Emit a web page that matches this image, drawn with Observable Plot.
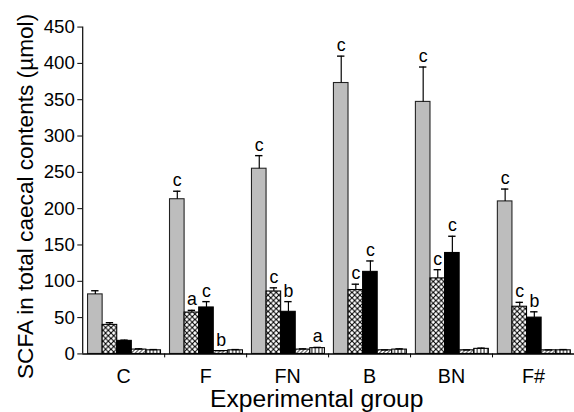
<!DOCTYPE html>
<html><head><meta charset="utf-8">
<script src="https://cdn.jsdelivr.net/npm/d3@7"></script>
<script src="https://cdn.jsdelivr.net/npm/@observablehq/plot@0.6"></script>
<style>
html,body{margin:0;padding:0;overflow:hidden;background:#fff;width:574px;height:412px}
#chart{width:574px;height:412px;overflow:hidden}
</style>
</head><body>
<svg width="0" height="0" style="position:absolute">
  <defs>
    <pattern id="cross" patternUnits="userSpaceOnUse" width="5.5" height="5.5">
      <rect width="5.5" height="5.5" fill="#fff"/>
      <path d="M0,0L5.5,5.5M5.5,0L0,5.5" stroke="#000" stroke-width="1.1"/>
    </pattern>
    <pattern id="diag" patternUnits="userSpaceOnUse" width="4" height="4">
      <rect width="4" height="4" fill="#fff"/>
      <path d="M-1,1l2,-2M0,4l4,-4M3,5l2,-2" stroke="#000" stroke-width="1"/>
    </pattern>
    <pattern id="vstripe" patternUnits="userSpaceOnUse" width="3.5" height="3.5">
      <rect width="3.5" height="3.5" fill="#fff"/>
      <path d="M1.75,0V3.5" stroke="#000" stroke-width="1"/>
    </pattern>
  </defs>
</svg>
<div id="chart"></div>
<script>
// Categories
const groups = ["C", "F", "FN", "B", "BN", "F#"];
// Series values (µmol) and SEM, one array per bar type
const grayVals    = [82, 213, 255, 373, 347, 210];
const grayErr     = [5, 11, 18, 37, 48, 17];
const crossVals   = [40, 57, 86, 88, 104, 65];
const crossErr    = [3, 3, 5, 8, 12, 6];
const blackVals   = [18, 64, 58, 113, 139, 50];
const blackErr    = [1, 8, 14, 15, 23, 8];
const diagVals    = [6, 4, 6, 5, 5, 5];
const diagErr     = [1, 0.5, 1, 0.5, 0.5, 0.5];
const stripeVals  = [5, 5, 8, 6, 7, 5];
const stripeErr   = [1, 1, 1, 1, 1, 1];
// Significance letters
const grayLetters   = ["", "c", "c", "c", "c", "c"];
const crossLetters  = ["", "a", "c", "c", "c", "c"];
const blackLetters  = ["", "c", "b", "c", "c", "b"];
const diagLetters   = ["", "b", "", "", "", ""];
const stripeLetters = ["", "", "a", "", "", ""];
// Tick labels
const yTicks = [0, 50, 100, 150, 200, 250, 300, 350, 400, 450];
const yLabel = "SCFA in total caecal contents (µmol)";
const xLabel = "Experimental group";

const seriesVals = [grayVals, crossVals, blackVals, diagVals, stripeVals];
const seriesErr = [grayErr, crossErr, blackErr, diagErr, stripeErr];
const seriesLetters = [grayLetters, crossLetters, blackLetters, diagLetters, stripeLetters];

// styles (not data)
const fills = ["#bdbdbd", "url(#cross)", "#000", "url(#diag)", "url(#vstripe)"];
const strokes = ["#222", "#000", "#000", "#000", "#000"];
const OFF = 0.065, W = 0.178, CAP = 0.045;

const rows = [];
seriesVals.forEach((vals, s) => vals.forEach((v, g) => rows.push({
  g, s, value: v, err: seriesErr[s][g], letter: seriesLetters[s][g]
})));
const left = d => d.g + OFF + d.s * W;
const mid = d => d.g + OFF + d.s * W + W / 2;

const font = "'Liberation Sans', Arial, Helvetica, sans-serif";

const chart = Plot.plot({
  width: 583,
  height: 412,
  marginLeft: 83.5,
  marginRight: 0,
  marginTop: 27,
  marginBottom: 53,
  style: {fontFamily: font, color: "#000", background: "#fff", overflow: "visible"},
  x: {domain: [0, groups.length], axis: null},
  y: {domain: [0, 450], axis: null},
  marks: [
    Plot.rectY(rows, {
      x1: left, x2: d => left(d) + W, y1: 0, y2: "value",
      fill: d => fills[d.s], stroke: d => strokes[d.s], strokeWidth: 1.1
    }),
    Plot.ruleX(rows, {x: mid, y1: "value", y2: d => d.value + d.err, stroke: "#000", strokeWidth: 1.2}),
    Plot.ruleY(rows, {y: d => d.value + d.err, x1: d => mid(d) - CAP, x2: d => mid(d) + CAP, stroke: "#000", strokeWidth: 1.4}),
    Plot.text(rows.filter(d => d.letter), {
      x: mid, y: d => d.value + d.err, text: "letter",
      lineAnchor: "bottom", dy: -5, fontSize: 18, fill: "#000"
    }),
    Plot.ruleX([0], {stroke: "#000", strokeWidth: 1.2}),
    Plot.ruleY([0], {stroke: "#000", strokeWidth: 1.4}),
    Plot.axisY({ticks: yTicks, tickSize: 5, tickPadding: 3, fontSize: 19, label: null, tickFormat: d => String(d)}),
    Plot.axisX({ticks: d3.range(1, groups.length), tickSize: 4, tickFormat: () => "", label: null}),
    Plot.axisX({ticks: groups.map((_, i) => i + 0.5), tickSize: 0, tickPadding: 15, fontSize: 20,
      tickFormat: d => groups[Math.floor(d)], label: null}),
    Plot.text([yLabel], {frameAnchor: "left", textAnchor: "middle", rotate: -90, dx: -58, dy: 6, fontSize: 23, lineAnchor: "middle", fill: "#000"}),
    Plot.text([xLabel], {frameAnchor: "bottom", textAnchor: "middle", dx: -12, dy: 46, fontSize: 25, lineAnchor: "middle", fill: "#000"})
  ]
});
document.getElementById("chart").appendChild(chart);
</script>
</body></html>
